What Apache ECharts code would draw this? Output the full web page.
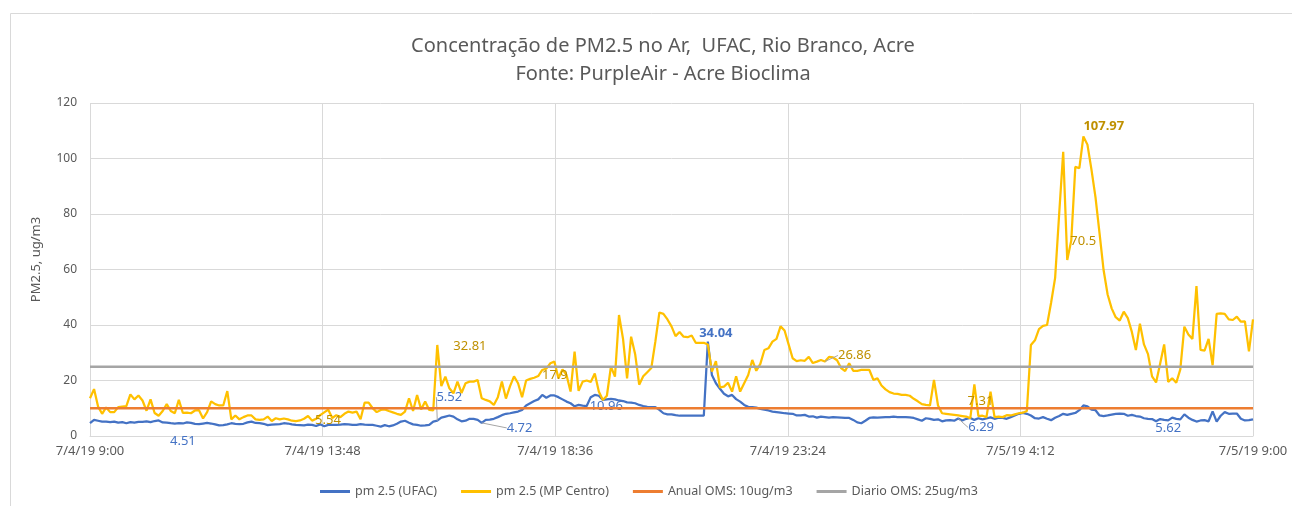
<!DOCTYPE html>
<html>
<head>
<meta charset="utf-8">
<script src="https://cdn.jsdelivr.net/npm/echarts/dist/echarts.min.js"></script>
<style>
  html, body { margin: 0; padding: 0; background: #fff; }
  #main { width: 1292px; height: 506px; }
</style>
</head>
<body>
<div id="main"></div>
<script>
// leituras a cada 5 minutos, 7/4/19 9:00 -> 7/5/19 9:00
var stepMinutes = 5;
var xTicks = ['7/4/19 9:00', '7/4/19 13:48', '7/4/19 18:36', '7/4/19 23:24', '7/5/19 4:12', '7/5/19 9:00'];
var seriesNames = ['pm 2.5 (UFAC)', 'pm 2.5 (MP Centro)', 'Anual OMS: 10ug/m3', 'Diario OMS: 25ug/m3'];

var ufac = [
  4.6, 5.8, 5.5, 5.2, 5.2, 5.0, 5.2, 4.8, 5.0, 4.6, 5.0, 4.8, 5.1, 5.1, 5.3, 5.0, 5.4, 5.6, 4.9, 4.8,
  4.6, 4.5, 4.6, 4.51, 4.9, 4.7, 4.4, 4.3, 4.5, 4.7, 4.5, 4.2, 3.8, 3.9, 4.2, 4.6, 4.4, 4.3, 4.4, 4.9,
  5.2, 4.7, 4.6, 4.4, 3.9, 4.1, 4.2, 4.3, 4.6, 4.5, 4.2, 4.0, 3.9, 3.8, 4.1, 4.0, 3.6, 4.2, 3.5,
  4.0, 4.0, 4.0, 4.1, 4.3, 4.2, 4.0, 4.0, 4.3, 4.1, 4.0, 4.0, 3.7, 3.4, 3.9, 3.5, 3.8, 4.4, 5.2, 5.5,
  4.8, 4.2, 4.0, 3.7, 3.8, 4.0, 5.2, 5.52, 6.6, 7.0, 7.4, 7.0, 6.0, 5.3, 5.5, 6.2, 6.2, 5.8, 4.72, 5.8,
  5.9, 6.2, 6.8, 7.5, 8.0, 8.2, 8.5, 8.8, 9.4, 11.0, 11.8, 12.6, 13.2, 14.8, 13.8, 14.6, 14.6, 14.0, 13.2, 12.4,
  11.8, 10.7, 11.2, 10.96, 10.8, 14.0, 14.8, 14.5, 13.0, 13.2, 13.4, 13.2, 12.8, 12.6, 12.1, 12.0, 11.8, 11.2, 10.8,
  10.5, 10.4, 10.4, 9.4, 8.2, 7.8, 7.8, 7.5, 7.3, 7.3, 7.3, 7.3, 7.3, 7.3, 7.3, 34.04, 22.0, 19.0, 17.0, 15.2,
  14.3, 14.8, 13.3, 12.4, 11.2, 10.5, 10.4, 10.2, 9.8, 9.5, 9.2, 8.8, 8.6, 8.4, 8.2, 8.1, 8.0, 7.4,
  7.4, 7.6, 7.0, 7.1, 6.6, 7.0, 6.8, 6.6, 6.8, 6.7, 6.6, 6.5, 6.5, 5.8, 4.9, 4.6, 5.5, 6.5, 6.7, 6.6,
  6.7, 6.8, 6.8, 7.0, 6.8, 6.8, 6.8, 6.7, 6.5, 6.0, 5.5, 6.4, 6.2, 5.8, 6.0, 5.3, 5.6, 5.7, 5.5, 6.29,
  5.6, 6.2, 6.5, 5.8, 6.4, 6.0, 6.3, 6.7, 6.2, 6.6, 6.5, 6.2, 6.8, 7.4, 8.0, 8.3, 8.0, 7.4,
  6.4, 6.3, 6.8, 6.2, 5.7, 6.6, 7.2, 8.0, 7.6, 8.0, 8.3, 9.3, 11.0, 10.7, 9.5, 9.3, 7.4, 7.2, 7.4, 7.7,
  8.0, 8.1, 8.0, 7.3, 7.6, 7.2, 7.0, 6.4, 6.2, 6.1, 5.3, 6.1, 5.8, 5.62, 6.6, 6.2, 6.0, 7.8, 6.6, 5.8,
  5.2, 5.6, 5.7, 5.3, 8.9, 5.2, 7.3, 8.6, 8.0, 8.1, 8.1, 6.2, 5.6, 5.7, 6.0
];

var mpCentro = [
  13.6, 16.9, 10.6, 8.0, 10.3, 8.6, 8.6, 10.4, 10.6, 10.8, 15.0, 13.2, 14.6, 12.8, 9.1, 13.2, 8.3, 7.3, 9.0, 11.5,
  9.0, 8.2, 13.0, 8.3, 8.4, 8.2, 9.2, 9.3, 6.3, 8.6, 12.5, 11.5, 11.0, 11.0, 16.2, 6.0, 7.4, 6.0, 6.8, 7.4,
  7.4, 6.0, 5.8, 6.0, 7.0, 5.4, 6.4, 6.0, 6.3, 6.0, 5.5, 5.4, 5.6, 6.2, 7.2, 5.54, 6.2, 7.5, 8.5,
  9.5, 6.5, 7.5, 6.8, 8.0, 8.8, 8.4, 8.8, 6.0, 12.0, 12.0, 10.0, 8.6, 9.4, 9.6, 9.0, 8.5, 8.0, 7.6, 8.8,
  13.6, 9.0, 14.8, 9.6, 12.4, 9.4, 9.2, 32.81, 18.0, 21.4, 17.2, 15.4, 19.6, 15.5, 19.0, 19.6, 19.6, 20.2, 13.6, 13.0,
  12.5, 11.2, 14.0, 19.6, 13.5, 17.9, 21.5, 19.0, 14.0, 20.0, 20.6, 21.0, 21.6, 23.8, 24.3, 26.2, 26.8, 20.8, 24.0, 22.0,
  16.0, 30.4, 16.3, 19.6, 20.0, 19.5, 22.5, 16.0, 13.0, 14.5, 25.0, 21.4, 43.6, 35.0, 20.8, 35.8, 29.5, 18.5, 21.5,
  23.0, 24.5, 34.0, 44.5, 44.0, 42.0, 39.5, 36.0, 37.5, 35.8, 35.6, 36.2, 33.6, 33.6, 33.6, 33.0, 23.2, 27.0, 17.5, 17.8,
  19.2, 16.0, 21.5, 16.0, 19.0, 22.0, 27.4, 23.5, 26.0, 31.0, 31.6, 34.0, 35.0, 39.5, 38.0, 33.0, 28.0, 27.0,
  27.3, 27.1, 28.5, 26.3, 26.8, 27.4, 26.86, 28.5, 28.3, 27.3, 24.5, 23.4, 26.2, 23.5, 23.5, 23.8, 23.8, 23.8, 20.2, 20.8,
  18.2, 16.8, 15.8, 15.3, 15.2, 14.8, 14.8, 14.5, 13.4, 12.5, 11.5, 11.2, 11.0, 20.2, 11.0, 8.2, 8.0, 7.8, 7.6, 7.4,
  7.2, 7.0, 6.4, 18.6, 7.2, 7.31, 6.8, 16.0, 6.8, 7.0, 6.8, 7.5, 7.4, 7.8, 8.2, 8.4, 9.0, 32.8,
  34.5, 38.5, 39.7, 40.0, 48.0, 57.0, 80.0, 102.4, 63.4, 70.5, 97.0, 96.5, 107.97, 105.0, 96.0, 86.0, 73.0, 59.8, 51.0, 46.0,
  42.8, 41.6, 44.8, 42.5, 37.5, 31.0, 40.5, 33.0, 29.5, 21.5, 19.3, 26.0, 33.0, 19.5, 20.8, 19.2, 24.0, 39.4, 36.6, 35.0,
  54.0, 31.0, 30.8, 35.0, 25.5, 44.0, 44.2, 44.0, 42.0, 41.8, 43.0, 41.2, 41.3, 30.5, 42.0
];

var anualOMS = 10;
var diarioOMS = 25;

// rotulos de dados (indice -> posicao / deslocamento)
var ufacLabels = {
  23: { pos: 'bottom', dx: 0, dy: 6 },
  86: { pos: 'top', dx: 12, dy: -12, line: true },
  97: { pos: 'right', dx: 20, dy: 5, line: true },
  122: { pos: 'right', dx: 2, dy: 1 },
  153: { pos: 'top', dx: 8, dy: 3, bold: true },
  215: { pos: 'right', dx: 5, dy: 9, line: true },
  267: { pos: 'bottom', dx: 0, dy: -4 }
};
var mpLabels = {
  55: { pos: 'right', dx: -2, dy: 0 },
  86: { pos: 'right', dx: 11, dy: 1 },
  104: { pos: 'right', dx: 27, dy: -11 },
  182: { pos: 'right', dx: 8, dy: -6, line: true },
  221: { pos: 'top', dx: -2, dy: -3 },
  243: { pos: 'right', dx: -6, dy: 1 },
  246: { pos: 'right', dx: -5, dy: -10, bold: true }
};

var totalMinutes = (xTicks.length - 1) * 288;

function buildData(values, specs, color) {
  return values.map(function (v, i) {
    var s = specs[i];
    if (!s) return [i * stepMinutes, v];
    return {
      value: [i * stepMinutes, v],
      label: {
        show: true,
        position: s.pos,
        color: color,
        fontSize: 13,
        fontWeight: s.bold ? 'bold' : 'normal'
      },
      labelLine: { show: !!s.line, lineStyle: { color: '#A5A5A5', width: 1 } }
    };
  });
}

function layoutFor(specs) {
  return function (p) {
    var s = specs[p.dataIndex];
    if (s) return { dx: s.dx, dy: s.dy };
    return {};
  };
}

var chart = echarts.init(document.getElementById('main'), null, { renderer: 'canvas' });

var font = 'Noto Sans';
var grey = '#595959';

chart.setOption({
  animation: false,
  textStyle: { fontFamily: font },
  title: {
    text: 'Concentração de PM2.5 no Ar,  UFAC, Rio Branco, Acre\nFonte: PurpleAir - Acre Bioclima',
    left: 658,
    top: 27,
    textAlign: 'center',
    textStyle: { fontFamily: font, fontSize: 20, fontWeight: 'normal', color: grey, lineHeight: 28 }
  },
  graphic: [{
    type: 'rect',
    shape: { x: 10.5, y: 13.5, width: 1300, height: 520 },
    style: { fill: 'none', stroke: '#D9D9D9', lineWidth: 1 },
    silent: true
  }],
  legend: {
    data: seriesNames,
    top: 480,
    left: 315,
    icon: 'rect',
    itemWidth: 30,
    itemHeight: 3,
    itemGap: 24,
    textStyle: { fontFamily: font, fontSize: 12.5, color: grey }
  },
  grid: { left: 90, right: 39, top: 103, bottom: 70, containLabel: false, outerBoundsMode: 'none' },
  xAxis: {
    type: 'value',
    min: 0,
    max: totalMinutes,
    interval: 288,
    axisLine: { show: true, lineStyle: { color: '#D9D9D9', width: 1 } },
    axisTick: { show: false },
    splitLine: { show: true, lineStyle: { color: '#D9D9D9', width: 1 } },
    axisLabel: {
      color: grey,
      fontSize: 13,
      margin: 9,
      formatter: function (v) { return xTicks[Math.round(v / 288)]; }
    }
  },
  yAxis: {
    type: 'value',
    min: 0,
    max: 120,
    interval: 20,
    name: 'PM2.5, ug/m3',
    nameLocation: 'middle',
    nameGap: 47,
    nameTextStyle: { color: grey, fontSize: 13, fontFamily: font, padding: [0, 0, 0, 20] },
    axisLine: { show: false },
    axisTick: { show: false },
    splitLine: { show: true, lineStyle: { color: '#D9D9D9', width: 1 } },
    axisLabel: { color: grey, fontSize: 12, margin: 13 }
  },
  series: [
    {
      name: seriesNames[0],
      type: 'line',
      data: buildData(ufac, ufacLabels, '#4472C4'),
      showSymbol: true,
      showAllSymbol: true,
      symbol: 'circle',
      symbolSize: 0,
      lineStyle: { color: '#4472C4', width: 2.25 },
      itemStyle: { color: '#4472C4' },
      label: { show: false, formatter: function (p) { return p.value[1]; } },
      labelLayout: layoutFor(ufacLabels),
      emphasis: { disabled: true },
      z: 2
    },
    {
      name: seriesNames[1],
      type: 'line',
      data: buildData(mpCentro, mpLabels, '#BF9000'),
      showSymbol: true,
      showAllSymbol: true,
      symbol: 'circle',
      symbolSize: 0,
      lineStyle: { color: '#FFC000', width: 2.25 },
      itemStyle: { color: '#FFC000' },
      label: { show: false, formatter: function (p) { return p.value[1]; } },
      labelLayout: layoutFor(mpLabels),
      emphasis: { disabled: true },
      z: 3
    },
    {
      name: seriesNames[2],
      type: 'line',
      data: [[0, anualOMS], [totalMinutes, anualOMS]],
      showSymbol: false,
      lineStyle: { color: '#ED7D31', width: 2.5 },
      itemStyle: { color: '#ED7D31' },
      emphasis: { disabled: true },
      z: 4
    },
    {
      name: seriesNames[3],
      type: 'line',
      data: [[0, diarioOMS], [totalMinutes, diarioOMS]],
      showSymbol: false,
      lineStyle: { color: '#A5A5A5', width: 2.5 },
      itemStyle: { color: '#A5A5A5' },
      emphasis: { disabled: true },
      z: 5
    }
  ]
});
</script>
</body>
</html>
